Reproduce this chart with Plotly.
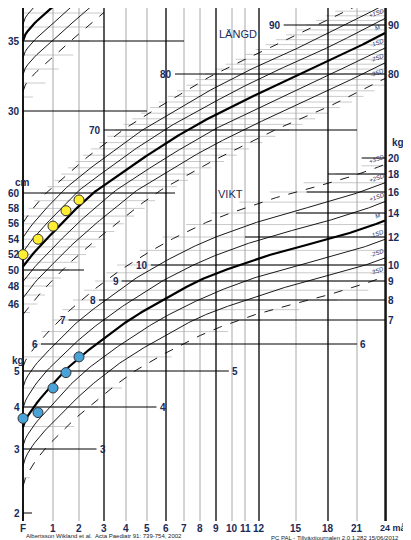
import numpy as np
import plotly.graph_objects as go

# x axis: months and their pixel positions on the sheet
month_ticks = [0, 1, 2, 3, 4, 5, 6, 7, 8, 9, 10, 11, 12, 15, 18, 21, 24]
month_labels = ["F", "1", "2", "3", "4", "5", "6", "7", "8", "9", "10", "11", "12", "15", "18", "21", "24 mån"]
month_px = [15, 45, 71, 96, 118, 139, 158, 176, 192, 208, 224, 237, 251, 288, 320, 349, 377]
major_months = [0, 3, 6, 9, 12, 18, 24]

# y scales (value -> pixel)
len_vals = [44, 46, 48, 50, 60, 70, 80, 90, 95]
len_px = [313, 296, 278, 262, 185, 122, 66, 17, -6]
kg_vals = [1.5, 2, 3, 4, 5, 6, 7, 8, 9, 10, 12, 14, 16, 18, 20, 24]
kg_px = [550, 505, 441, 399, 363, 336, 312, 292, 273, 257, 229, 205, 184, 166, 150, 122]
hc_vals = [28, 30, 35, 40]
hc_px = [131, 103, 33, -37]

# reference curves (median and SD)
ages = [0, 1, 2, 3, 4, 6, 9, 12, 15, 18, 21, 24]
len_m = [50.5, 54.6, 58.3, 61.4, 63.9, 68.0, 72.5, 76.3, 79.7, 82.8, 85.6, 88.2]
len_sd = [1.9, 2.0, 2.1, 2.2, 2.2, 2.3, 2.5, 2.6, 2.7, 2.8, 2.9, 3.1]
kg_m = [3.5, 4.5, 5.5, 6.3, 7.0, 8.1, 9.3, 10.3, 11.2, 12.0, 12.6, 13.2]
kg_s = [0.13, 0.125, 0.12, 0.12, 0.12, 0.12, 0.12, 0.12, 0.12, 0.12, 0.12, 0.12]
hc_ages = [0, 1, 2, 3]
hc_m = [35.0, 37.4, 39.2, 40.6]
hc_sd = 1.2

# measurements
len_age = [0, 0.5, 1, 1.5, 2]
len_obs = [52.0, 54.0, 55.7, 57.7, 59.1]
kg_age = [0, 0.5, 1, 1.5, 2]
kg_obs = [3.7, 3.85, 4.5, 4.95, 5.5]

NAVY = "#1a2a5a"


def xp(m):
    return np.interp(m, month_ticks, month_px)


def yl(v):
    return np.interp(v, len_vals, len_px)


def yk(v):
    return np.interp(np.log(v), np.log(kg_vals), kg_px)


def yh(v):
    return np.interp(v, hc_vals, hc_px)


def smooth(a, vals, t, deg=4):
    # smooth curve through the read values, fitted in sqrt(age)
    c = np.polyfit(np.sqrt(a), vals, deg)
    return np.polyval(c, np.sqrt(t))


fig = go.Figure()
t = np.linspace(0, 24, 300)
lm = smooth(ages, len_m, t)
ls = smooth(ages, len_sd, t, 2)
km = np.exp(smooth(ages, np.log(kg_m), t))
ks = smooth(ages, kg_s, t, 2)


def line(x, y, color="black", width=1, dash=None):
    fig.add_trace(go.Scatter(x=x, y=y, mode="lines", hoverinfo="skip",
                             line=dict(color=color, width=width, dash=dash)))


# horizontal gray grid (length)
for v in np.arange(45, 95, 1.0):
    if v < lm[0] - 3.4 * ls[0] - 1:
        continue
    hi = np.interp(v, lm + 3.4 * ls, t, left=0, right=24)
    lo = np.interp(v, lm - 3.4 * ls, t, left=0, right=24)
    line([xp(hi), xp(lo)], [yl(v), yl(v)], "#bdbdbd", 0.8)
# horizontal gray grid (weight)
for v in list(np.arange(2.5, 10, 0.5)) + list(range(10, 21)):
    hi = np.interp(v, km * np.exp(3.4 * ks), t, left=0, right=24)
    lo = np.interp(v, km * np.exp(-3.4 * ks), t, left=0, right=24)
    line([xp(hi), xp(lo)], [yk(v), yk(v)], "#bdbdbd", 0.8)
# head circumference grid
for v in np.arange(29, 38, 1.0):
    line([15, xp(np.interp(v, np.array(hc_m) - 4 * hc_sd, hc_ages, right=3))], [yh(v), yh(v)], "#bdbdbd", 0.8)

# vertical lines
for m in month_ticks:
    maj = m in major_months
    line([xp(m), xp(m)], [0, 513], "black" if maj else "#a8a8a8", 1.3 if maj else 1)

# major black lines with labels: (value, from month, to month, label side)
len_major = [(50, 0, 2.2, "l"), (60, 0, 6.5, "l"), (70, 3, 21, "l"), (80, 6.5, 24, "lr"), (90, 14, 24, "lr")]
for v, a, b, side in len_major:
    line([xp(a), xp(b)], [yl(v), yl(v)], "black", 1)
    if "l" in side:
        fig.add_annotation(x=xp(a) - 1, y=yl(v), text="<b>%d</b>" % v, xanchor="right",
                           showarrow=False, font=dict(size=10, color=NAVY))
    if "r" in side:
        fig.add_annotation(x=xp(b) + 1, y=yl(v), text="<b>%d</b>" % v, xanchor="left",
                           showarrow=False, font=dict(size=10, color=NAVY))
for v in [46, 48, 52, 54, 56, 58]:
    fig.add_annotation(x=14, y=yl(v), text="<b>%d</b>" % v, xanchor="right", showarrow=False,
                       font=dict(size=10, color=NAVY))

kg_major = [(2, 0, 0.3, "l"), (3, 0, 2.7, "lr"), (4, 0, 5.5, "lr"), (5, 0, 9.8, "lr"), (6, 0.6, 21, "lr"),
            (7, 1.6, 24, "lr"), (8, 2.8, 24, "lr"), (9, 3.8, 24, "lr"), (10, 5.2, 24, "lr"),
            (12, 11, 24, "r"), (14, 15, 24, "r"), (16, 16, 24, "r"), (18, 18, 24, "r"), (20, 21.5, 24, "r")]
for v, a, b, side in kg_major:
    line([xp(a), xp(b)], [yk(v), yk(v)], "black", 1)
    if "l" in side:
        fig.add_annotation(x=xp(a) - 1, y=yk(v), text="<b>%d</b>" % v, xanchor="right",
                           showarrow=False, font=dict(size=10, color=NAVY))
    if "r" in side:
        fig.add_annotation(x=xp(b) + 1, y=yk(v), text="<b>%d</b>" % v, xanchor="left",
                           showarrow=False, font=dict(size=10, color=NAVY))
for v in [35, 30]:
    line([15, xp(5) if v == 30 else xp(7)], [yh(v), yh(v)], "black", 1)
    fig.add_annotation(x=14, y=yh(v), text="<b>%d</b>" % v, xanchor="right", showarrow=False,
                       font=dict(size=10, color=NAVY))

# reference curves
sd_list = [-3, -2, -1, 0, 1, 2, 3]
sd_names = {-3: "-3SD", -2: "-2SD", -1: "-1SD", 0: "M", 1: "+1SD", 2: "+2SD", 3: "+3SD"}
th = np.linspace(0, 3, 40)
hcm = smooth(hc_ages, hc_m, th, 2)
for k in sd_list:
    w = 2.2 if k == 0 else 0.9
    dash = "dash" if abs(k) == 3 else None
    y1 = yl(lm + k * ls)
    line(xp(t), y1, "black", w, dash)
    y2 = yk(km * np.exp(k * ks))
    line(xp(t), y2, "black", w, dash)
    yh_c = yh(hcm + k * hc_sd)
    keep = yh_c > -2
    line(xp(th)[keep], yh_c[keep], "black", w, dash)
    for yy in (y1[-1], y2[-1]):
        fig.add_annotation(x=369, y=yy - 5, text="<i>%s</i>" % sd_names[k], showarrow=False,
                           textangle=-20, font=dict(size=6, color=NAVY))

# frame
line([15, 15], [0, 513], "black", 1.5)
line([378, 378], [0, 513], "black", 1.5)

# measurements
fig.add_trace(go.Scatter(x=xp(np.array(len_age)), y=yl(np.array(len_obs)), mode="markers",
                         marker=dict(size=10, color="#ffee33", line=dict(color="#333", width=1))))
fig.add_trace(go.Scatter(x=xp(np.array(kg_age)), y=yk(np.array(kg_obs)), mode="markers",
                         marker=dict(size=10, color="#4aa3d8", line=dict(color="#333", width=1))))

# month labels
for m, lab in zip(month_ticks, month_labels):
    last = lab.endswith("mån")
    fig.add_annotation(x=xp(m), y=520, text="<b>%s</b>" % lab, showarrow=False,
                       xanchor="left" if last else "center", xshift=-7 if last else 0,
                       font=dict(size=9 if last else 10, color=NAVY))

texts = [(230, 26, "LÄNGD", 11), (222, 186, "VIKT", 11), (14, 174, "<b>cm</b>", 10),
         (390, 134, "<b>kg</b>", 10), (10, 352, "<b>kg</b>", 10)]
for x, y, s, f in texts:
    fig.add_annotation(x=x, y=y, text=s, showarrow=False, xanchor="center", font=dict(size=f, color=NAVY))
fig.add_annotation(x=16, y=528, text="Albertsson Wikland et al.  Acta Paediatr 91: 739-754, 2002",
                   xanchor="left", showarrow=False, font=dict(size=6, color="#222"))
fig.add_annotation(x=393, y=530, text="PC PAL - Tillväxtjournalen 2.0.1.282 15/06/2012",
                   xanchor="right", showarrow=False, font=dict(size=6, color="#222"))

fig.update_layout(width=411, height=540, margin=dict(l=0, r=0, t=0, b=0),
                  plot_bgcolor="white", paper_bgcolor="white", showlegend=False,
                  font=dict(family="Liberation Sans"),
                  xaxis=dict(range=[0, 411], visible=False, fixedrange=True),
                  yaxis=dict(range=[540, 0], visible=False, fixedrange=True))
fig.write_html("out.html")
